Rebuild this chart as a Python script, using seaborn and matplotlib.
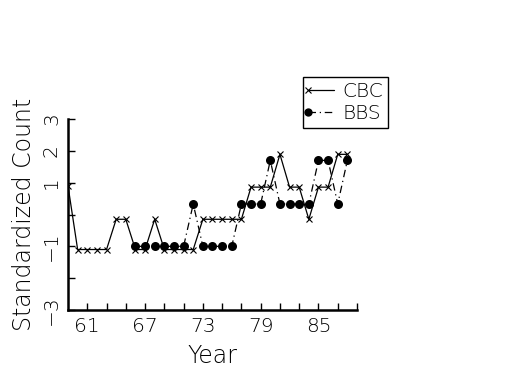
import matplotlib
matplotlib.use("Agg")
import matplotlib.pyplot as plt
import seaborn as sns
import pandas as pd
import numpy as np
from matplotlib.legend_handler import HandlerLine2D
from matplotlib.lines import Line2D

# ---- data ----
cbc_years = [59, 60, 61, 62, 63, 64, 65, 66, 67, 68, 69, 70, 71, 72, 73, 74, 75, 76, 77,
             78, 79, 80, 81, 82, 83, 84, 85, 86, 87, 88]
cbc_values = [0.9, -1.1, -1.1, -1.1, -1.1, -0.15, -0.15, -1.1, -1.1, -0.15, -1.1, -1.1, -1.1, -1.1,
              -0.15, -0.15, -0.15, -0.15, -0.15, 0.86, 0.86, 0.86, 1.89, 0.86, 0.86, -0.15,
              0.86, 0.86, 1.89, 1.89]
bbs_years = [66, 67, 68, 69, 70, 71, 72, 73, 74, 75, 76, 77, 78, 79, 80, 81, 82, 83, 84,
             85, 86, 87, 88]
bbs_values = [-1.0, -1.0, -1.0, -1.0, -1.0, -1.0, 0.33, -1.0, -1.0, -1.0, -1.0, 0.33, 0.33, 0.33,
              1.7, 0.33, 0.33, 0.33, 0.33, 1.7, 1.7, 0.33, 1.7]
x_ticks = list(range(61, 90, 2))
x_labels = ["61", "67", "73", "79", "85"]
y_ticks = [-3, -2, -1, 0, 1, 2, 3]
y_labels = ["\u22123", "", "\u22121", "", "1", "2", "3"]

sns.set_style("white")
plt.rcParams['font.family'] = ['DejaVu Sans']
plt.rcParams['font.weight'] = 'light'
plt.rcParams['text.color'] = 'black'
plt.rcParams['axes.labelcolor'] = 'black'
plt.rcParams['axes.labelweight'] = 'light'

fig = plt.figure(figsize=(5.25, 3.75), dpi=100)
ax = fig.add_axes([68/525, 1 - 310/375, (357-68)/525, (310-119)/375])

cbc = pd.DataFrame({"Year": cbc_years, "Count": cbc_values})
bbs = pd.DataFrame({"Year": bbs_years, "Count": bbs_values})

dashdot = (0, (6, 3, 1, 3))
sns.lineplot(data=cbc, x="Year", y="Count", ax=ax, color="black", linewidth=0.9,
             marker="x", markersize=4.5, markeredgewidth=0.8, markeredgecolor="black",
             linestyle="-")
sns.lineplot(data=bbs, x="Year", y="Count", ax=ax, color="black", linewidth=0.9,
             marker="o", markersize=6.5, markeredgewidth=0, markerfacecolor="black",
             linestyle=dashdot)

ax.set_xlim(59, 89)
ax.set_ylim(-3, 3)
ax.set_xticks(x_ticks)
ax.set_xticklabels([str(t) if str(t) in x_labels else "" for t in x_ticks])
ax.set_yticks(y_ticks)
ax.set_yticklabels(y_labels, rotation=90, va="center")
ax.tick_params(direction="in", length=5, width=1, colors="black", labelsize=14.5,
               left=True, bottom=True, pad=5)
for s in ["top", "right"]:
    ax.spines[s].set_visible(False)
for s in ["left", "bottom"]:
    ax.spines[s].set_linewidth(1.8)
    ax.spines[s].set_color("black")
ax.set_xlabel("Year", fontsize=17, labelpad=6, fontweight="light")
ax.set_ylabel("Standardized Count", fontsize=17, labelpad=4, fontweight="light")


class LeftMarkerHandler(HandlerLine2D):
    def create_artists(self, legend, orig_handle, xdescent, ydescent, width, height,
                       fontsize, trans):
        y = (height - ydescent) / 2
        line = Line2D([-xdescent, -xdescent + width], [y, y])
        self.update_prop(line, orig_handle, legend)
        line.set_marker("None")
        mk = Line2D([-xdescent], [y])
        self.update_prop(mk, orig_handle, legend)
        mk.set_linestyle("None")
        line.set_transform(trans)
        mk.set_transform(trans)
        return [line, mk]


h1 = Line2D([], [], color="black", linewidth=0.9, marker="x", markersize=4,
            markeredgewidth=0.8)
h2 = Line2D([], [], color="black", linewidth=0.9, marker="o", markersize=6,
            markeredgewidth=0, linestyle=dashdot)
leg = fig.legend([h1, h2], ["CBC", "BBS"], loc="upper left",
                 bbox_to_anchor=(303/525, 1 - 77/375), fontsize=14.5,
                 handler_map={Line2D: LeftMarkerHandler()},
                 frameon=True, fancybox=False, framealpha=1, edgecolor="black",
                 borderpad=0.25, labelspacing=0.15, handlelength=1.3, handletextpad=0.4,
                 borderaxespad=0)
leg.get_frame().set_linewidth(1.0)

fig.savefig("out.png", dpi=100)
